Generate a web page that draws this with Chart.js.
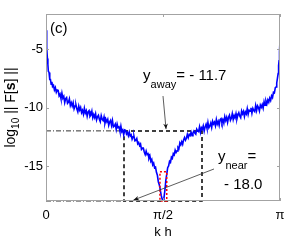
<!DOCTYPE html>
<html>
<head>
<meta charset="utf-8">
<script src="https://cdn.jsdelivr.net/npm/chart.js@4.4.0/dist/chart.umd.min.js"></script>
<style>
  html, body { margin: 0; padding: 0; background: #fff; }
</style>
</head>
<body>
<canvas id="chart" width="284" height="240"></canvas>
<script>
// k h, in units of pi
const khPi = [
  0, 0.002, 0.004, 0.006, 0.008, 0.010, 0.013, 0.016, 0.019, 0.022, 0.025, 0.028,
  0.032, 0.036, 0.040, 0.044, 0.048,
  0.052, 0.056, 0.060, 0.064, 0.068, 0.072, 0.076, 0.080, 0.084, 0.088, 0.092, 0.096,
  0.100, 0.104, 0.108, 0.112, 0.116, 0.120, 0.124, 0.128, 0.132, 0.136, 0.140, 0.144,
  0.148, 0.152, 0.156, 0.160, 0.164, 0.168, 0.172, 0.176, 0.180, 0.184, 0.188, 0.192,
  0.196, 0.200, 0.204, 0.208, 0.212, 0.216, 0.220, 0.224, 0.228, 0.232, 0.236, 0.240,
  0.244, 0.248, 0.252, 0.256, 0.260, 0.264, 0.268, 0.272, 0.276, 0.280, 0.284, 0.288,
  0.292, 0.296, 0.300, 0.304, 0.308, 0.312, 0.316, 0.320, 0.324, 0.328, 0.332, 0.336,
  0.340, 0.344, 0.348, 0.352, 0.356, 0.360, 0.364, 0.368, 0.372, 0.376, 0.380, 0.384,
  0.388, 0.392, 0.396, 0.400, 0.404, 0.408, 0.412, 0.416, 0.420, 0.424, 0.428, 0.432,
  0.436, 0.440,
  0.444, 0.448, 0.452, 0.456, 0.460, 0.464, 0.468, 0.472, 0.476, 0.480, 0.484, 0.488,
  0.492, 0.496, 0.500, 0.504, 0.508, 0.512, 0.516, 0.520, 0.524, 0.528, 0.532, 0.536,
  0.540, 0.544, 0.548, 0.552, 0.556,
  0.560, 0.564, 0.568, 0.572, 0.576, 0.580, 0.584, 0.588, 0.592, 0.596, 0.600, 0.604,
  0.608, 0.612, 0.616, 0.620, 0.624, 0.628, 0.632, 0.636, 0.640, 0.644, 0.648, 0.652,
  0.656, 0.660, 0.664, 0.668, 0.672, 0.676, 0.680, 0.684, 0.688, 0.692, 0.696, 0.700,
  0.704, 0.708, 0.712, 0.716, 0.720, 0.724, 0.728, 0.732, 0.736, 0.740, 0.744, 0.748,
  0.752, 0.756, 0.760, 0.764, 0.768, 0.772, 0.776, 0.780, 0.784, 0.788, 0.792, 0.796,
  0.800, 0.804, 0.808, 0.812, 0.816, 0.820, 0.824, 0.828, 0.832, 0.836, 0.840, 0.844,
  0.848, 0.852, 0.856, 0.860, 0.864, 0.868, 0.872, 0.876, 0.880, 0.884, 0.888, 0.892,
  0.896, 0.900, 0.904, 0.908, 0.912, 0.916, 0.920, 0.924, 0.928, 0.932, 0.936, 0.940,
  0.944, 0.948,
  0.952, 0.956, 0.960, 0.964, 0.968, 0.972, 0.976, 0.980, 0.983, 0.986, 0.989, 0.992,
  0.994, 0.996, 0.998, 1.000
];
// log10 || F[s] ||
const logF = [
  -3.4, -4.3, -4.9, -5.8, -6.3, -6.9, -7.0, -7.6, -7.6, -8.0, -7.8, -8.2,
  -8.1, -8.5, -8.3, -8.7, -8.5,
  -8.53, -9.00, -8.85, -9.23, -8.77, -9.21, -9.05, -9.58, -9.24, -9.15, -9.65, -9.55,
  -9.26, -9.83, -9.59, -9.88, -9.59, -10.12, -9.88, -9.78, -10.13, -10.37, -9.88, -10.21,
  -10.00, -10.44, -10.24, -10.57, -10.07, -10.47, -10.27, -10.75, -10.38, -10.27, -10.75, -10.63,
  -10.31, -10.87, -10.60, -10.86, -10.54, -11.06, -10.79, -10.66, -11.00, -11.21, -10.70, -11.00,
  -11.12, -10.80, -11.34, -11.01, -11.22, -11.01, -11.52, -11.24, -11.10, -11.53, -11.12, -11.66,
  -11.59, -11.42, -11.87, -11.41, -11.72, -11.66, -12.03, -11.59, -12.07, -11.93, -12.33, -11.91,
  -11.95, -12.27, -12.14, -12.41, -12.10, -12.43, -12.33, -12.71, -12.50, -12.46, -12.85, -12.82,
  -12.66, -13.11, -13.00, -13.25, -13.12, -13.58, -13.48, -13.48, -13.80, -14.03, -13.73, -14.02,
  -13.95, -14.35,
  -14.15, -14.6, -14.45, -14.9, -14.75, -15.15, -15.1, -15.55, -15.8, -16.35, -16.6, -17.0,
  -17.5, -17.8, -18.0, -17.75, -17.1, -16.25, -15.7, -15.15, -15.0, -14.6, -14.7, -14.25,
  -14.35, -13.95, -14.05, -13.65, -13.85,
  -13.71, -13.42, -13.53, -13.03, -13.19, -12.93, -13.15, -12.77, -12.57, -12.80, -12.63, -12.30,
  -12.58, -12.30, -12.40, -12.12, -12.42, -12.18, -12.02, -12.19, -12.28, -11.85, -12.00, -12.06,
  -11.66, -12.12, -11.73, -11.86, -11.57, -12.02, -11.66, -11.44, -11.78, -11.28, -11.74, -11.58,
  -11.33, -11.71, -11.18, -11.41, -11.26, -11.56, -11.03, -11.42, -11.19, -11.53, -11.04, -10.95,
  -11.32, -11.06, -11.34, -10.78, -11.11, -10.85, -11.27, -10.84, -10.66, -11.09, -10.91, -10.53,
  -11.02, -10.69, -10.90, -10.52, -10.97, -10.64, -10.45, -10.73, -10.88, -10.30, -10.54, -10.33,
  -10.77, -10.38, -10.55, -10.10, -10.58, -10.23, -10.32, -10.03, -10.50, -10.08, -10.27, -10.36,
  -9.83, -10.26, -9.86, -10.01, -10.30, -9.79, -9.98, -9.75, -10.06, -9.50, -9.80, -9.44,
  -9.70, -9.35,
  -9.55, -9.2, -9.4, -9.0, -9.15, -8.7, -8.75, -8.3, -8.25, -7.9, -7.5, -7.1,
  -6.4, -6.0, -5.2, -4.2
];

const xTicks = [0, 0.5, 1];
const xTickLabels = ["0", "\u03C0/2", "\u03C0"];
const yTicks = [-5, -10, -15];

// dashed window and the dotted window around the dip
const yAway = -12;
const yNear = -18;
const awayBoxX = [1 / 3, 2 / 3];
const nearBoxX = [0.487, 0.516];
const nearBoxTop = -15.5;

// annotation anchors (data units)
const awayArrow = [[0.5, -9.02], [0.513, -11.85]];
const nearArrow = [[0.718, -15.26], [0.374, -17.92]];
const awayTextAt = [0.415, -7.65];
const nearTextAt = [0.735, -14.55];
const nearValueAt = [0.761, -16.95];
const panelTextAt = [0.017, -3.6];

const FONT = "'Liberation Sans', Arial, Helvetica, sans-serif";

const curve = khPi.map((x, i) => ({ x: x, y: logF[i] }));

const frameAndNotes = {
  id: "frameAndNotes",
  afterDraw(chart) {
    const ctx = chart.ctx;
    const xs = chart.scales.x;
    const ys = chart.scales.y;
    const a = chart.chartArea;
    const px = (v) => xs.getPixelForValue(v);
    const py = (v) => ys.getPixelForValue(v);

    ctx.save();
    // box round the axes
    ctx.strokeStyle = "#a3a3a3";
    ctx.lineWidth = 1;
    ctx.strokeRect(Math.round(a.left) + 0.5, Math.round(a.top) + 0.5,
      Math.round(a.right - a.left) - 1, Math.round(a.bottom - a.top) - 1);
    // inward ticks
    ctx.beginPath();
    for (const t of xTicks) {
      const x = Math.round(px(t)) + 0.5;
      ctx.moveTo(x, a.bottom); ctx.lineTo(x, a.bottom - 3);
      ctx.moveTo(x, a.top); ctx.lineTo(x, a.top + 3);
    }
    for (const t of yTicks) {
      const y = Math.round(py(t)) + 0.5;
      ctx.moveTo(a.left, y); ctx.lineTo(a.left + 3, y);
      ctx.moveTo(a.right, y); ctx.lineTo(a.right - 3, y);
    }
    ctx.stroke();

    // arrows
    const arrow = (p) => {
      const x0 = px(p[0][0]), y0 = py(p[0][1]);
      const x1 = px(p[1][0]), y1 = py(p[1][1]);
      ctx.strokeStyle = "#333";
      ctx.fillStyle = "#111";
      ctx.lineWidth = 0.8;
      ctx.beginPath();
      ctx.moveTo(x0, y0); ctx.lineTo(x1, y1);
      ctx.stroke();
      const ang = Math.atan2(y1 - y0, x1 - x0);
      ctx.beginPath();
      ctx.moveTo(x1, y1);
      ctx.lineTo(x1 - 6 * Math.cos(ang - 0.4), y1 - 6 * Math.sin(ang - 0.4));
      ctx.lineTo(x1 - 4 * Math.cos(ang), y1 - 4 * Math.sin(ang));
      ctx.lineTo(x1 - 6 * Math.cos(ang + 0.4), y1 - 6 * Math.sin(ang + 0.4));
      ctx.closePath();
      ctx.fill();
    };
    arrow(awayArrow);
    arrow(nearArrow);

    // labels with subscripts
    ctx.fillStyle = "#000";
    ctx.textBaseline = "alphabetic";
    ctx.textAlign = "left";
    const subLabel = (at, base, sub, rest) => {
      let x = px(at[0]);
      const y = py(at[1]);
      ctx.font = "15px " + FONT;
      ctx.fillText(base, x, y);
      x += ctx.measureText(base).width;
      ctx.font = "11px " + FONT;
      ctx.fillText(sub, x, y + 8);
      x += ctx.measureText(sub).width;
      ctx.font = "15px " + FONT;
      ctx.fillText(rest, x, y);
    };
    subLabel(awayTextAt, "y", "away", "= - 11.7");
    subLabel(nearTextAt, "y", "near", "=");
    ctx.font = "15px " + FONT;
    ctx.fillText("- 18.0", px(nearValueAt[0]), py(nearValueAt[1]));
    ctx.fillText("(c)", px(panelTextAt[0]), py(panelTextAt[1]));

    // x title
    ctx.font = "13px " + FONT;
    ctx.textAlign = "center";
    ctx.fillText("k h", (a.left + a.right) / 2, a.bottom + 35);

    // y title: log10 || F[s] ||
    ctx.translate(15, (a.top + a.bottom) / 2);
    ctx.rotate(-Math.PI / 2);
    ctx.textAlign = "left";
    const parts = [
      { t: "log", f: "14px " + FONT, dy: 0 },
      { t: "10", f: "10px " + FONT, dy: 4 },
      { t: " || F[", f: "14px " + FONT, dy: 0 },
      { t: "s", f: "bold 14px " + FONT, dy: 0 },
      { t: "] ||", f: "14px " + FONT, dy: 0 }
    ];
    let total = 0;
    for (const p of parts) { ctx.font = p.f; total += ctx.measureText(p.t).width; }
    let x = -total / 2;
    for (const p of parts) {
      ctx.font = p.f;
      ctx.fillText(p.t, x, p.dy);
      x += ctx.measureText(p.t).width;
    }
    ctx.restore();
  }
};

new Chart(document.getElementById("chart"), {
  type: "line",
  plugins: [frameAndNotes],
  data: {
    datasets: [
      {
        // dotted window on the dip
        data: [
          { x: nearBoxX[0], y: nearBoxTop }, { x: nearBoxX[1], y: nearBoxTop },
          { x: nearBoxX[1], y: yNear }, { x: nearBoxX[0], y: yNear },
          { x: nearBoxX[0], y: nearBoxTop }
        ],
        borderColor: "#ff0000",
        borderWidth: 1.5,
        borderDash: [2, 2],
        pointRadius: 0,
        clip: false
      },
      {
        data: curve,
        borderColor: "#0000ff",
        borderWidth: 1.6,
        pointRadius: 0,
        tension: 0
      },
      {
        // dashed window
        data: [
          { x: awayBoxX[0], y: yAway }, { x: awayBoxX[1], y: yAway },
          { x: awayBoxX[1], y: yNear }, { x: awayBoxX[0], y: yNear },
          { x: awayBoxX[0], y: yAway }
        ],
        borderColor: "#000",
        borderWidth: 1.5,
        borderDash: [4, 3],
        pointRadius: 0,
        clip: false
      },
      {
        data: [{ x: 0, y: yAway }, { x: awayBoxX[0], y: yAway }],
        borderColor: "#333",
        borderWidth: 1,
        borderDash: [5, 2, 1, 2],
        pointRadius: 0
      },
      {
        data: [{ x: 0, y: yNear }, { x: awayBoxX[0], y: yNear }],
        borderColor: "#333",
        borderWidth: 1,
        borderDash: [5, 2, 1, 2],
        pointRadius: 0,
        clip: false
      }
    ]
  },
  options: {
    responsive: false,
    devicePixelRatio: 1,
    animation: false,
    layout: { padding: { top: 14, right: 4, left: 0, bottom: 0 } },
    plugins: {
      legend: { display: false },
      tooltip: { enabled: false }
    },
    scales: {
      x: {
        type: "linear",
        min: 0,
        max: 1,
        grid: { display: false, drawTicks: false },
        border: { display: false },
        afterBuildTicks: (s) => { s.ticks = xTicks.map((v) => ({ value: v })); },
        afterFit: (s) => { s.height = 39; s.paddingLeft = 0; s.paddingRight = 0; },
        ticks: {
          maxRotation: 0,
          padding: 7,
          color: "#000",
          font: { family: FONT, size: 13 },
          callback: (v) => xTickLabels[xTicks.indexOf(v)]
        }
      },
      y: {
        type: "linear",
        min: -18,
        max: -2,
        grid: { display: false, drawTicks: false },
        border: { display: false },
        afterBuildTicks: (s) => { s.ticks = yTicks.map((v) => ({ value: v })); },
        afterFit: (s) => { s.width = 46; s.paddingTop = 0; s.paddingBottom = 0; },
        ticks: {
          padding: 3,
          color: "#000",
          font: { family: FONT, size: 13 }
        }
      }
    }
  }
});
</script>
</body>
</html>
